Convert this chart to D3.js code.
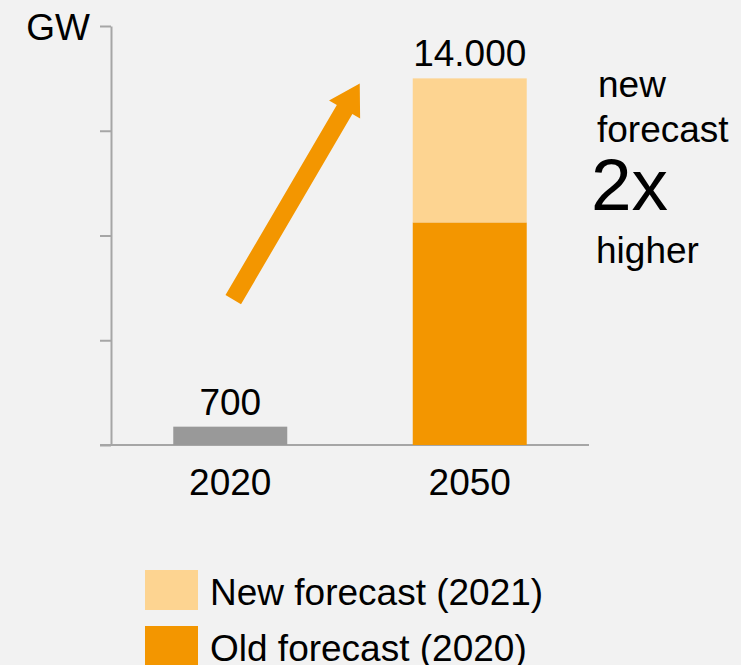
<!DOCTYPE html>
<html>
<head>
<meta charset="utf-8">
<script src="https://cdn.jsdelivr.net/npm/d3@7"></script>
<style>
  html, body { margin: 0; padding: 0; background: #f2f2f2; }
  svg { display: block; font-family: "Liberation Sans", Arial, sans-serif; }
  .lbl { font-size: 37px; fill: #000; }
</style>
</head>
<body>
<div id="chart-area"></div>
<script>
// chart values
var years = ["2020", "2050"];
var oldForecast = [700, 8500];      // 2020 actual, old forecast for 2050
var newForecast = [0, 5500];        // extra from the new forecast (total 14.000)
var yTicks = [0, 4000, 8000, 12000, 16000];
var seriesNames = ["New forecast (2021)", "Old forecast (2020)"];
var sideText = ["new", "forecast", "2x", "higher"];

var colOld = "#f39600", colNew = "#fdd491", colBase = "#999999", axisCol = "#a6a6a6";

var svg = d3.select("#chart-area").append("svg")
    .attr("width", 741)
    .attr("height", 665);

var x = d3.scaleBand().domain(years).range([111, 589])
    .paddingInner(0.524).paddingOuter(0.26);
var y = d3.scaleLinear().domain([0, 16000]).range([445, 26]);

// german style thousands
var fmt = d3.formatLocale({decimal: ",", thousands: ".", grouping: [3], currency: ["", "€"]}).format(",d");

// y axis, ticks only
var yAxis = svg.append("g")
    .attr("transform", "translate(111,0)")
    .call(d3.axisLeft(y).tickValues(yTicks).tickSize(11).tickSizeOuter(0).tickFormat(""));
yAxis.selectAll("path, line").attr("stroke", axisCol).attr("stroke-width", 2);

// x axis labels + base line
var xAxis = svg.append("g")
    .attr("transform", "translate(0,445)")
    .call(d3.axisBottom(x).tickSize(0).tickPadding(24));
xAxis.select(".domain").remove();
xAxis.selectAll("text").attr("class", "lbl").attr("font-size", null).attr("font-family", null).attr("dy", "0.71em");
svg.append("line")
    .attr("x1", 100).attr("x2", 589)
    .attr("y1", y(0)).attr("y2", y(0))
    .attr("stroke", axisCol).attr("stroke-width", 2);

svg.append("text").attr("class", "lbl")
    .attr("x", 90).attr("y", 40)
    .attr("text-anchor", "end")
    .text("GW");

// stacked bars
var stacked = years.map(function(d, i) {
    return {year: d, old: oldForecast[i], nw: newForecast[i], total: oldForecast[i] + newForecast[i]};
});

svg.selectAll("rect.old")
    .data(stacked)
    .enter()
    .append("rect")
    .attr("class", "old")
    .attr("x", function(d) { return x(d.year); })
    .attr("width", x.bandwidth())
    .attr("y", function(d) { return y(d.old); })
    .attr("height", function(d) { return y(0) - y(d.old); })
    .attr("fill", function(d, i) { return i == 0 ? colBase : colOld; });

svg.selectAll("rect.new")
    .data(stacked.filter(function(d) { return d.nw > 0; }))
    .enter()
    .append("rect")
    .attr("class", "new")
    .attr("x", function(d) { return x(d.year); })
    .attr("width", x.bandwidth())
    .attr("y", function(d) { return y(d.total); })
    .attr("height", function(d) { return y(d.old) - y(d.total); })
    .attr("fill", colNew);

// value labels
svg.selectAll("text.val")
    .data(stacked)
    .enter()
    .append("text")
    .attr("class", "lbl val")
    .attr("text-anchor", "middle")
    .attr("x", function(d) { return x(d.year) + x.bandwidth() / 2; })
    .attr("y", function(d) { return y(d.total) - 12; })
    .text(function(d) { return fmt(d.total); });

// growth arrow, placed in data space
var a0 = [x("2020") + x.bandwidth() / 2 + 3, y(5550)];
var a1 = [x("2050") - 53, y(13800)];
var ang = Math.atan2(a1[1] - a0[1], a1[0] - a0[0]);
var len = Math.hypot(a1[0] - a0[0], a1[1] - a0[1]);
var sw = 9, hw = 18, hl = 30;
var pts = [[0, -sw], [len - hl, -sw], [len - hl, -hw], [len, 0], [len - hl, hw], [len - hl, sw], [0, sw]];
svg.append("path")
    .attr("d", d3.line()(pts) + "Z")
    .attr("fill", colOld)
    .attr("transform", "translate(" + a0[0] + "," + a0[1] + ") rotate(" + (ang * 180 / Math.PI) + ")");

// side annotation
var side = svg.append("g");
side.append("text").attr("class", "lbl").attr("x", 598).attr("y", 97).text(sideText[0]);
side.append("text").attr("class", "lbl").attr("x", 597).attr("y", 142).text(sideText[1]);
side.append("text").attr("class", "lbl").attr("x", 591).attr("y", 210).style("font-size", "73px").text(sideText[2]);
side.append("text").attr("class", "lbl").attr("x", 596).attr("y", 263).text(sideText[3]);

// legend
var legend = svg.selectAll("g.legend")
    .data(seriesNames)
    .enter()
    .append("g")
    .attr("class", "legend")
    .attr("transform", function(d, i) { return "translate(145," + (570 + i * 56) + ")"; });
legend.append("rect")
    .attr("width", 53).attr("height", 40)
    .attr("fill", function(d, i) { return i == 0 ? colNew : colOld; });
legend.append("text")
    .attr("class", "lbl")
    .attr("x", 65).attr("y", 35)
    .text(function(d) { return d; });
</script>
</body>
</html>
